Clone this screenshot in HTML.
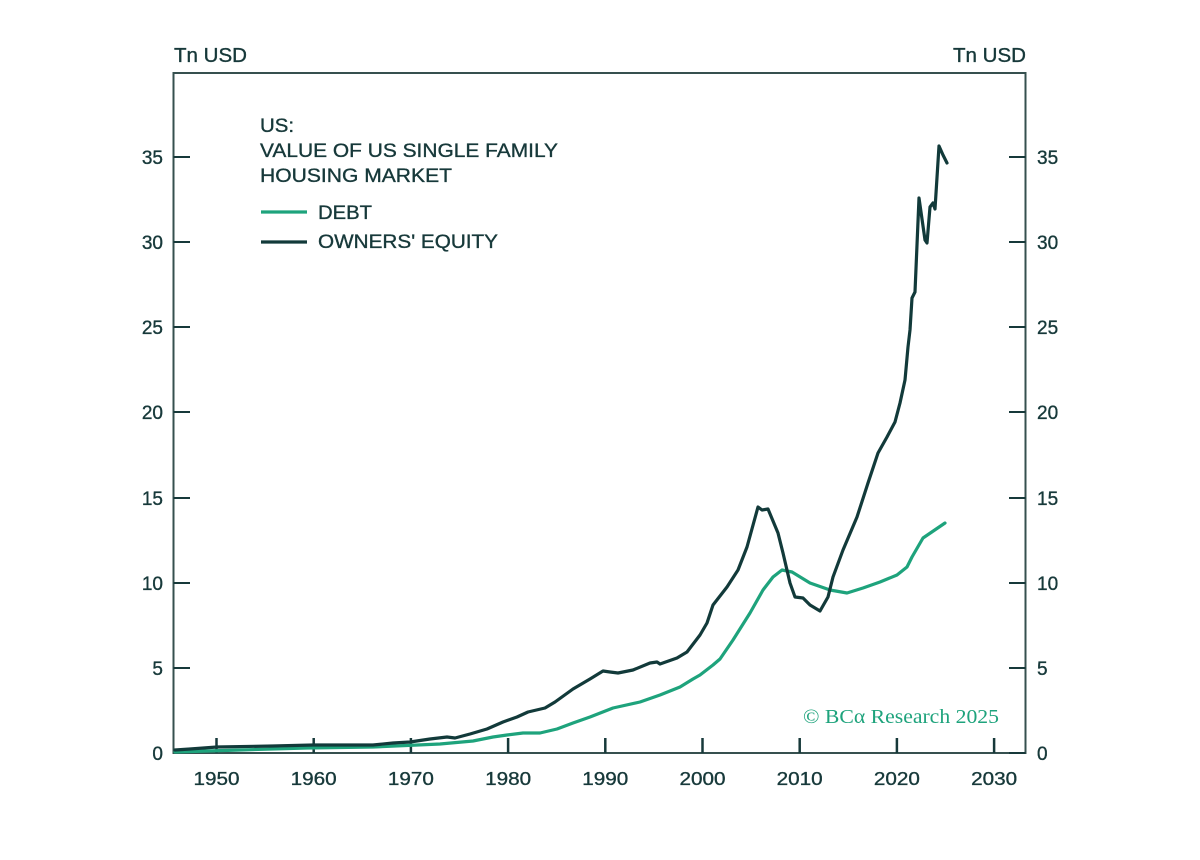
<!DOCTYPE html>
<html>
<head>
<meta charset="utf-8">
<style>
  html,body{margin:0;padding:0;background:#fff;}
  svg{display:block;}
  text{font-family:"Liberation Sans",sans-serif;fill:#17393a;stroke:#17393a;stroke-width:0.35;}
</style>
</head>
<body>
<svg width="1200" height="860" viewBox="0 0 1200 860" xmlns="http://www.w3.org/2000/svg">
  <rect width="1200" height="860" fill="#fff"/>

  <!-- axis titles -->
  <text x="174" y="62" font-size="20" textLength="73" lengthAdjust="spacingAndGlyphs">Tn USD</text>
  <text x="953" y="62" font-size="20" textLength="73" lengthAdjust="spacingAndGlyphs">Tn USD</text>

  <!-- frame -->
  <rect x="173.5" y="73" width="852" height="680" fill="none" stroke="#36504f" stroke-width="2"/>

  <!-- y ticks -->
  <g stroke="#17393a" stroke-width="2">
    <line x1="173.5" y1="668" x2="190" y2="668"/>
    <line x1="173.5" y1="583" x2="190" y2="583"/>
    <line x1="173.5" y1="498" x2="190" y2="498"/>
    <line x1="173.5" y1="412" x2="190" y2="412"/>
    <line x1="173.5" y1="327" x2="190" y2="327"/>
    <line x1="173.5" y1="242" x2="190" y2="242"/>
    <line x1="173.5" y1="157" x2="190" y2="157"/>
    <line x1="1009" y1="753" x2="1025.5" y2="753"/>
    <line x1="1009" y1="668" x2="1025.5" y2="668"/>
    <line x1="1009" y1="583" x2="1025.5" y2="583"/>
    <line x1="1009" y1="498" x2="1025.5" y2="498"/>
    <line x1="1009" y1="412" x2="1025.5" y2="412"/>
    <line x1="1009" y1="327" x2="1025.5" y2="327"/>
    <line x1="1009" y1="242" x2="1025.5" y2="242"/>
    <line x1="1009" y1="157" x2="1025.5" y2="157"/>
  </g>
  <!-- x ticks -->
  <g stroke="#17393a" stroke-width="2.5">
    <line x1="216.5" y1="738" x2="216.5" y2="753"/>
    <line x1="313.7" y1="738" x2="313.7" y2="753"/>
    <line x1="410.9" y1="738" x2="410.9" y2="753"/>
    <line x1="508.1" y1="738" x2="508.1" y2="753"/>
    <line x1="605.3" y1="738" x2="605.3" y2="753"/>
    <line x1="702.5" y1="738" x2="702.5" y2="753"/>
    <line x1="799.7" y1="738" x2="799.7" y2="753"/>
    <line x1="896.9" y1="738" x2="896.9" y2="753"/>
    <line x1="994.1" y1="738" x2="994.1" y2="753"/>
  </g>

  <!-- left y labels -->
  <g font-size="19" text-anchor="end">
    <text x="163" y="760">0</text>
    <text x="163" y="675">5</text>
    <text x="163" y="590">10</text>
    <text x="163" y="505">15</text>
    <text x="163" y="419">20</text>
    <text x="163" y="334">25</text>
    <text x="163" y="249">30</text>
    <text x="163" y="164">35</text>
  </g>
  <!-- right y labels -->
  <g font-size="19">
    <text x="1037" y="760">0</text>
    <text x="1037" y="675">5</text>
    <text x="1037" y="590">10</text>
    <text x="1037" y="505">15</text>
    <text x="1037" y="419">20</text>
    <text x="1037" y="334">25</text>
    <text x="1037" y="249">30</text>
    <text x="1037" y="164">35</text>
  </g>
  <!-- x labels -->
  <g font-size="18.5">
    <text x="193.5" y="785" textLength="46" lengthAdjust="spacingAndGlyphs">1950</text>
    <text x="290.7" y="785" textLength="46" lengthAdjust="spacingAndGlyphs">1960</text>
    <text x="387.9" y="785" textLength="46" lengthAdjust="spacingAndGlyphs">1970</text>
    <text x="485.1" y="785" textLength="46" lengthAdjust="spacingAndGlyphs">1980</text>
    <text x="582.3" y="785" textLength="46" lengthAdjust="spacingAndGlyphs">1990</text>
    <text x="679.5" y="785" textLength="46" lengthAdjust="spacingAndGlyphs">2000</text>
    <text x="776.7" y="785" textLength="46" lengthAdjust="spacingAndGlyphs">2010</text>
    <text x="873.9" y="785" textLength="46" lengthAdjust="spacingAndGlyphs">2020</text>
    <text x="971.1" y="785" textLength="46" lengthAdjust="spacingAndGlyphs">2030</text>
  </g>

  <!-- title & legend -->
  <g font-size="19.5">
    <text x="260" y="132" textLength="34" lengthAdjust="spacingAndGlyphs">US:</text>
    <text x="260" y="157" textLength="298" lengthAdjust="spacingAndGlyphs">VALUE OF US SINGLE FAMILY</text>
    <text x="260" y="182" textLength="192" lengthAdjust="spacingAndGlyphs">HOUSING MARKET</text>
    <text x="318" y="219" textLength="54" lengthAdjust="spacingAndGlyphs">DEBT</text>
    <text x="318" y="248" textLength="180" lengthAdjust="spacingAndGlyphs">OWNERS' EQUITY</text>
  </g>
  <line x1="261" y1="212" x2="307" y2="212" stroke="#1ea37c" stroke-width="3.2"/>
  <line x1="261" y1="242" x2="307" y2="242" stroke="#123a3a" stroke-width="3.2"/>

  <!-- copyright -->
  <text x="803" y="723" font-size="20.5" style="font-family:'Liberation Serif',serif;fill:#1ea37c;stroke:none" textLength="196" lengthAdjust="spacingAndGlyphs">© BCα Research 2025</text>

  <!-- debt series -->
  <polyline fill="none" stroke="#1ea37c" stroke-width="3.2" stroke-linejoin="round" stroke-linecap="round"
    points="175,752 240,750 307,748 373,747 440,744 473,741 493,737 507,735 523,733 540,733 557,729 573,723 590,717 613,708 640,702 660,695 680,687 693,679 700,675 713,665 720,659 733,640 750,613 763,590 773,577 782,570 792,572 810,583 830,590 847,593 863,588 880,582 897,575 907,567 912,557 923,538 945,523"/>

  <!-- equity series -->
  <polyline fill="none" stroke="#123a3a" stroke-width="3.2" stroke-linejoin="round" stroke-linecap="round"
    points="175,750 190,749 217,747 273,746 313,745 373,745 393,743 410,742 430,739 447,737 455,738 470,734 487,729 503,722 517,717 528,712 545,708 555,702 573,689 590,679 603,671 610,672 618,673 633,670 650,663 657,662 660,664 677,658 687,652 700,635 707,623 713,605 727,587 738,570 747,547 758,507 762,510 768,509 778,533 783,553 790,583 795,597 803,598 810,605 820,611 828,597 833,577 843,550 857,517 868,483 878,453 887,437 895,422 900,403 905,380 908,347 910,330 912,298 915,292 919,198 925,240 927,243 930,207 933,203 935,209 939,146 943,155 947,163"/>
</svg>
</body>
</html>
